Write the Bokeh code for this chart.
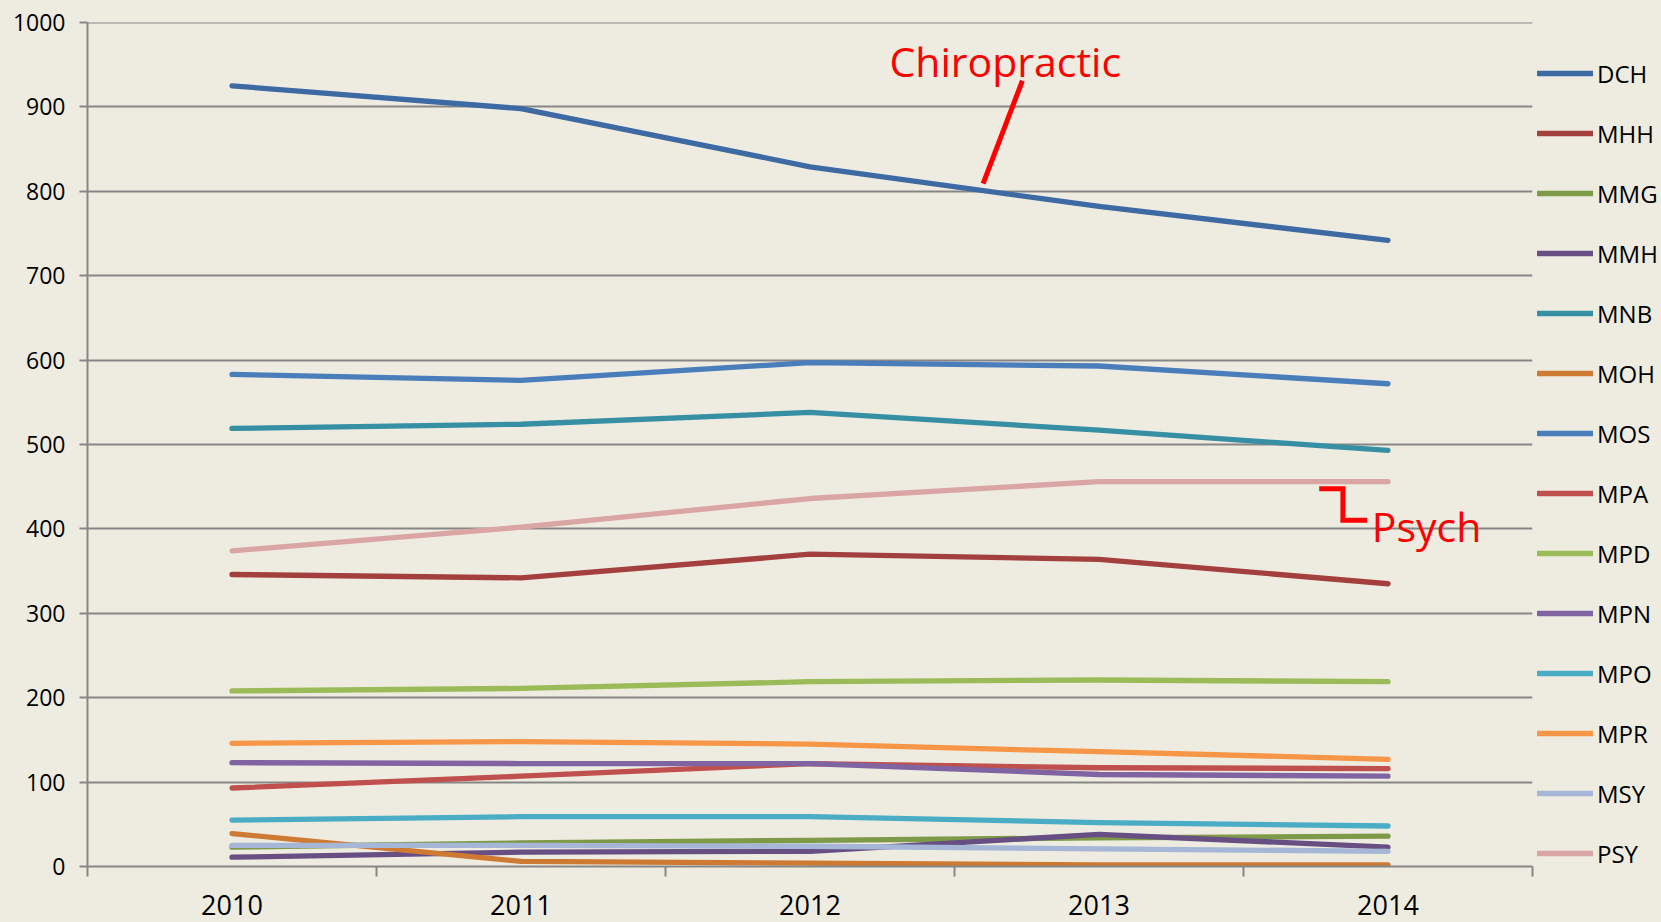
from bokeh.plotting import figure
from bokeh.models import Range1d, FixedTicker, Legend, LegendItem
from bokeh.core.properties import value
from bokeh.embed import file_html
from bokeh.resources import INLINE

years = [2010, 2011, 2012, 2013, 2014]
series_names = ["DCH", "MHH", "MMG", "MMH", "MNB", "MOH", "MOS",
                "MPA", "MPD", "MPN", "MPO", "MPR", "MSY", "PSY"]
DCH = [925, 898, 829, 782, 742]
MHH = [346, 342, 370, 364, 335]
MMG = [23, 28, 31, 34, 36]
MMH = [11, 17, 18, 38, 23]
MNB = [519, 524, 538, 517, 493]
MOH = [39, 6, 4, 2, 2]
MOS = [583, 576, 597, 593, 572]
MPA = [93, 107, 122, 117, 116]
MPD = [208, 211, 219, 221, 219]
MPN = [123, 122, 122, 109, 107]
MPO = [55, 59, 59, 52, 48]
MPR = [146, 148, 145, 136, 127]
MSY = [25, 25, 24, 21, 18]
PSY = [374, 402, 436, 456, 456]
series_values = [DCH, MHH, MMG, MMH, MNB, MOH, MOS, MPA, MPD, MPN, MPO, MPR, MSY, PSY]
colors = ["#3D6AA2", "#A3403D", "#7E9A48", "#674F84", "#378FA4", "#CE7A33", "#4A7EBB",
          "#C0504D", "#9BBB59", "#8064A2", "#4BACC6", "#F79646", "#A5B6D6", "#D9A6A5"]
y_ticks = [0, 100, 200, 300, 400, 500, 600, 700, 800, 900, 1000]

BG = "#EEECE1"
GRID = "#868686"
FONT = "Open Sans"
LW = 5.3

p = figure(frame_width=1445, frame_height=844, min_border_left=87, min_border_top=22,
           min_border_right=129, min_border_bottom=56,
           x_range=Range1d(2009.5, 2014.5), y_range=Range1d(0, 1000.01),
           output_backend="svg", toolbar_location=None,
           background_fill_color=BG, border_fill_color=BG)
p.outline_line_color = None
p.xgrid.visible = False
p.ygrid.grid_line_color = GRID
p.ygrid.grid_line_width = 2
p.ygrid.ticker = FixedTicker(ticks=y_ticks)

yax = p.yaxis[0]
yax.ticker = FixedTicker(ticks=y_ticks)
yax.axis_line_color = GRID
yax.axis_line_width = 2
yax.major_tick_line_color = GRID
yax.major_tick_line_width = 2
yax.major_tick_out = 8
yax.major_tick_in = 0
yax.minor_tick_line_color = None
yax.major_label_text_font = FONT
yax.major_label_text_font_size = "23px"
yax.major_label_text_color = "#000000"
yax.major_label_standoff = 14

xax = p.xaxis[0]
xax.ticker = FixedTicker(ticks=years, minor_ticks=[y - 0.5 for y in years] + [years[-1] + 0.5])
xax.major_label_overrides = {y: str(y) for y in years}
xax.axis_line_color = GRID
xax.axis_line_width = 2
xax.major_tick_out = 0
xax.major_tick_in = 0
xax.minor_tick_line_color = GRID
xax.minor_tick_line_width = 2
xax.minor_tick_out = 10
xax.minor_tick_in = 0
xax.major_label_text_font = FONT
xax.major_label_text_font_size = "27px"
xax.major_label_text_color = "#000000"
xax.major_label_standoff = 18

items = []
for name, vals, col in zip(series_names, series_values, colors):
    r = p.line(years, vals, line_color=col, line_width=LW, line_cap="round", line_join="round")
    items.append(LegendItem(label=name, renderers=[r]))

legend = Legend(items=items, location=(5, -4), orientation="vertical",
                border_line_color=None, background_fill_alpha=0,
                margin=0, padding=0, spacing=26,
                glyph_width=56, glyph_height=34, label_height=34, label_standoff=4,
                label_text_font=FONT, label_text_font_size="24px", label_text_color="#000000")
p.add_layout(legend, "right")

# annotations
RED = "#FF0000"
p.text(x=[2012.275], y=[954], text=["Chiropractic"], text_color=RED,
       text_font=value(FONT), text_font_size="41px", text_baseline="alphabetic", text_align="left")
p.line([2012.735, 2012.599], [931, 809], line_color=RED, line_width=5)
p.text(x=[2013.944], y=[403.5], text=["Psych"], text_color=RED,
       text_font=value(FONT), text_font_size="41px", text_baseline="alphabetic", text_align="left")
p.line([2013.762, 2013.844, 2013.844, 2013.928], [447.7, 447.7, 410.3, 410.3],
       line_color=RED, line_width=5, line_join="miter")

html = file_html(p, INLINE)
html = html.replace("</head>", "<style>html,body{background:%s;}</style></head>" % BG, 1)
open("out.html", "w").write(html)
